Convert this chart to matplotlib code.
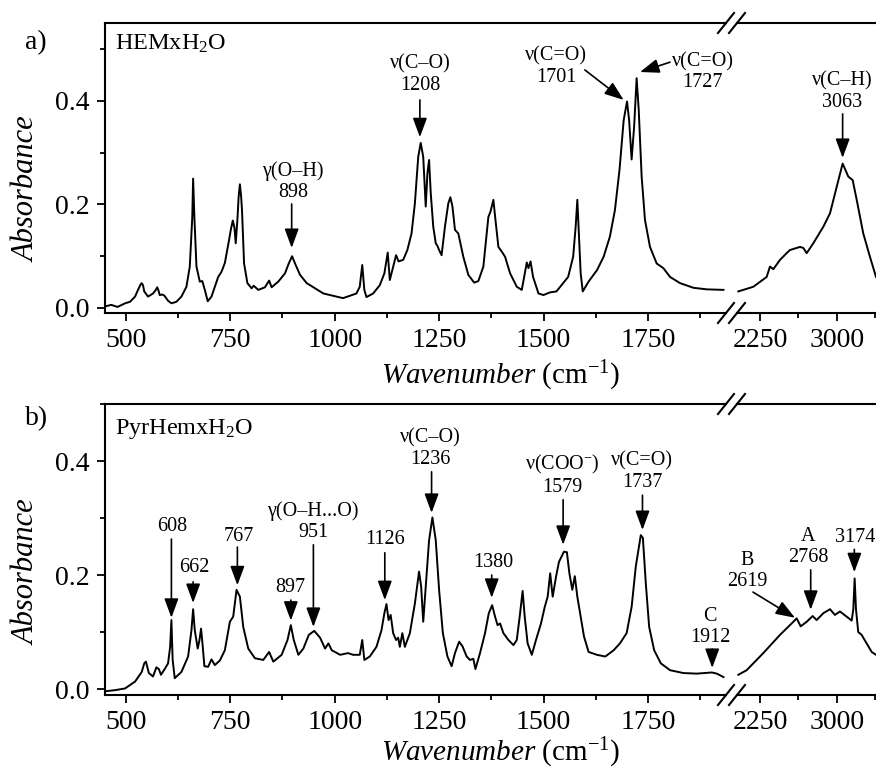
import matplotlib.pyplot as plt
from matplotlib.lines import Line2D
from matplotlib.ticker import FixedLocator, MultipleLocator, FormatStrFormatter

plt.rcParams['font.family'] = 'Liberation Serif'
plt.rcParams['mathtext.fontset'] = 'custom'
plt.rcParams['mathtext.rm'] = 'Liberation Serif'
plt.rcParams['mathtext.it'] = 'Liberation Serif:italic'

# ---- spectra ----
# a) HEMxH2O, 450-1950 cm-1
hem_wn_lo = [450, 465, 480, 498, 510, 522, 529, 535, 538, 541, 544, 553, 565, 571, 575, 578,
             581, 587, 592, 601, 609, 621, 633, 645, 653, 659, 661, 664, 669, 677, 683, 689,
             696, 705, 721, 729, 737, 747, 751, 756, 760, 763, 767, 770, 773, 776, 778, 783,
             791, 801, 806, 817, 833, 843, 849, 865, 881, 890, 898, 905, 917, 933, 953, 973,
             989, 1020, 1052, 1060, 1066, 1071, 1076, 1092, 1108, 1119, 1127, 1132, 1140, 1147,
             1153, 1164, 1174, 1184, 1192, 1200, 1206, 1212, 1218, 1222, 1226, 1230, 1236, 1242,
             1246, 1250, 1256, 1264, 1272, 1277, 1282, 1288, 1296, 1308, 1320, 1334, 1344, 1356,
             1368, 1373, 1380, 1385, 1392, 1400, 1408, 1420, 1436, 1448, 1453, 1460, 1464, 1469,
             1475, 1488, 1500, 1515, 1531, 1547, 1559, 1571, 1577, 1581, 1584, 1589, 1594, 1608,
             1628, 1644, 1659, 1671, 1682, 1692, 1700, 1705, 1711, 1717, 1723, 1728, 1735, 1743,
             1755, 1771, 1787, 1803, 1827, 1859, 1891, 1931]
hem_abs_lo = [0.003, 0.006, 0.002, 0.009, 0.012, 0.022, 0.035, 0.045, 0.048, 0.044, 0.032, 0.022,
              0.028, 0.034, 0.040, 0.034, 0.025, 0.026, 0.024, 0.014, 0.009, 0.012, 0.022, 0.041,
              0.080, 0.176, 0.250, 0.176, 0.080, 0.051, 0.052, 0.035, 0.013, 0.022, 0.060, 0.070,
              0.087, 0.131, 0.150, 0.169, 0.155, 0.125, 0.170, 0.215, 0.239, 0.215, 0.190, 0.086,
              0.048, 0.038, 0.043, 0.035, 0.040, 0.053, 0.040, 0.051, 0.067, 0.086, 0.100, 0.086,
              0.064, 0.048, 0.038, 0.028, 0.025, 0.019, 0.028, 0.041, 0.083, 0.035, 0.021, 0.028,
              0.044, 0.067, 0.107, 0.054, 0.080, 0.102, 0.090, 0.093, 0.112, 0.144, 0.202, 0.292,
              0.319, 0.292, 0.196, 0.260, 0.286, 0.222, 0.157, 0.125, 0.120, 0.112, 0.102, 0.157,
              0.202, 0.214, 0.196, 0.151, 0.144, 0.099, 0.064, 0.049, 0.052, 0.080, 0.176, 0.186,
              0.209, 0.170, 0.118, 0.109, 0.099, 0.067, 0.041, 0.035, 0.057, 0.088, 0.077, 0.090,
              0.060, 0.028, 0.025, 0.030, 0.032, 0.048, 0.060, 0.099, 0.157, 0.209, 0.157, 0.067,
              0.032, 0.051, 0.073, 0.099, 0.138, 0.189, 0.267, 0.363, 0.399, 0.363, 0.287, 0.350,
              0.444, 0.383, 0.254, 0.170, 0.118, 0.086, 0.077, 0.060, 0.048, 0.039, 0.036, 0.035]
# a) HEMxH2O, 2000-3400 cm-1
hem_wn_hi = [2039, 2185, 2315, 2347, 2380, 2445, 2510, 2542, 2640, 2672, 2705, 2769, 2867, 2932,
             2997, 3055, 3110, 3153, 3192, 3256, 3321, 3380]
hem_abs_hi = [0.032, 0.041, 0.060, 0.080, 0.075, 0.093, 0.106, 0.112, 0.118, 0.116, 0.106, 0.125,
              0.157, 0.183, 0.234, 0.279, 0.254, 0.247, 0.209, 0.144, 0.099, 0.060]

# b) PyrHemxH2O, 450-1950 cm-1
pyr_wn_lo = [450, 474, 498, 522, 538, 544, 548, 555, 565, 573, 579, 584, 593, 601, 606, 609, 612,
             617, 633, 649, 657, 661, 665, 672, 676, 680, 684, 688, 697, 705, 713, 725, 737, 749,
             757, 765, 773, 781, 793, 809, 829, 843, 853, 873, 887, 895, 902, 913, 925, 938, 951,
             965, 977, 985, 993, 1013, 1032, 1044, 1060, 1066, 1071, 1084, 1100, 1112, 1119, 1124,
             1129, 1134, 1140, 1147, 1152, 1156, 1162, 1168, 1180, 1192, 1202, 1207, 1212, 1218,
             1226, 1234, 1242, 1250, 1259, 1270, 1280, 1288, 1298, 1306, 1316, 1324, 1332, 1337,
             1348, 1360, 1369, 1377, 1384, 1390, 1396, 1404, 1416, 1428, 1436, 1443, 1450, 1455,
             1462, 1472, 1482, 1494, 1503, 1510, 1516, 1522, 1530, 1537, 1549, 1556, 1562, 1569,
             1575, 1581, 1589, 1597, 1608, 1628, 1648, 1668, 1683, 1699, 1711, 1721, 1733, 1738,
             1745, 1753, 1765, 1781, 1803, 1835, 1867, 1903, 1915, 1931]
pyr_abs_lo = [-0.004, -0.002, 0.001, 0.013, 0.030, 0.045, 0.048, 0.028, 0.022, 0.038, 0.035, 0.025,
              0.035, 0.045, 0.074, 0.121, 0.051, 0.019, 0.030, 0.057, 0.103, 0.140, 0.103, 0.071,
              0.085, 0.106, 0.075, 0.040, 0.039, 0.052, 0.042, 0.050, 0.068, 0.118, 0.127, 0.174,
              0.162, 0.109, 0.071, 0.054, 0.051, 0.065, 0.048, 0.060, 0.086, 0.112, 0.086, 0.060,
              0.071, 0.095, 0.102, 0.090, 0.071, 0.080, 0.068, 0.060, 0.063, 0.060, 0.060, 0.086,
              0.051, 0.057, 0.074, 0.103, 0.133, 0.149, 0.121, 0.130, 0.098, 0.086, 0.090, 0.074,
              0.098, 0.074, 0.098, 0.150, 0.206, 0.180, 0.118, 0.180, 0.261, 0.301, 0.261, 0.174,
              0.098, 0.057, 0.040, 0.063, 0.083, 0.075, 0.057, 0.051, 0.053, 0.035, 0.063, 0.098,
              0.133, 0.147, 0.127, 0.112, 0.115, 0.098, 0.086, 0.077, 0.086, 0.127, 0.172, 0.127,
              0.080, 0.060, 0.086, 0.115, 0.144, 0.162, 0.203, 0.162, 0.197, 0.223, 0.241, 0.240,
              0.203, 0.174, 0.198, 0.162, 0.127, 0.092, 0.065, 0.060, 0.057, 0.068, 0.080, 0.098,
              0.144, 0.215, 0.270, 0.265, 0.185, 0.109, 0.068, 0.045, 0.033, 0.028, 0.027, 0.029,
              0.027, 0.021]
# b) PyrHemxH2O, 2000-3400 cm-1
pyr_wn_hi = [2039, 2120, 2282, 2445, 2575, 2607, 2646, 2705, 2763, 2802, 2867, 2932, 2980, 3029,
             3094, 3143, 3159, 3172, 3185, 3207, 3240, 3289, 3338, 3380]
pyr_abs_hi = [0.025, 0.033, 0.063, 0.095, 0.118, 0.124, 0.110, 0.118, 0.128, 0.121, 0.133, 0.140,
              0.130, 0.136, 0.127, 0.120, 0.140, 0.194, 0.140, 0.100, 0.095, 0.080, 0.065, 0.060]

# band labels: (segment, text, text x, text y, arrow tail x, y, arrow tip x, y)
hem_notes = [
    ('lo', 'γ(O–H)\n898', 900, 0.205, 897, 0.201, 897, 0.116),
    ('lo', 'ν(C–O)\n1208', 1204, 0.412, 1204, 0.402, 1204, 0.330),
    ('lo', 'ν(C=O)\n1701', 1530, 0.427, 1599, 0.460, 1692, 0.402),
    ('lo', 'ν(C=O)\n1727', 1881, 0.417, 1803, 0.475, 1731, 0.456),
    ('hi', 'ν(C–H)\n3063', 3054, 0.379, 3055, 0.375, 3055, 0.290),
]
pyr_notes = [
    ('lo', '608', 610, 0.268, 609, 0.263, 609, 0.125),
    ('lo', '662', 665, 0.196, 661, 0.188, 661, 0.151),
    ('lo', '767', 771, 0.251, 767, 0.249, 767, 0.182),
    ('lo', '897', 894, 0.161, 895, 0.156, 895, 0.120),
    ('lo', 'γ(O–H...O)\n951', 948, 0.258, 949, 0.253, 949, 0.109),
    ('lo', '1126', 1120, 0.246, 1120, 0.239, 1120, 0.156),
    ('lo', 'ν(C–O)\n1236', 1230, 0.386, 1232, 0.381, 1232, 0.309),
    ('lo', '1380', 1379, 0.205, 1376, 0.200, 1376, 0.160),
    ('lo', 'ν(COO$^{-}$)\n1579', 1544, 0.337, 1547, 0.332, 1547, 0.253),
    ('lo', 'ν(C=O)\n1737', 1736, 0.346, 1737, 0.340, 1737, 0.279),
    ('lo', 'C\n1912', 1899, 0.074, 1904, 0.070, 1904, 0.037),
    ('hi', 'B\n2619', 2123, 0.172, 2182, 0.170, 2591, 0.125),
    ('hi', 'A\n2768', 2718, 0.214, 2744, 0.209, 2744, 0.139),
    ('hi', '3174', 3175, 0.249, 3169, 0.245, 3169, 0.205),
]

W, H = 876, 771
fig = plt.figure(figsize=(W / 100, H / 100), dpi=100)


def fx(px):
    return px / W


def fy(py):
    return 1 - py / H


def make_panel(ytop, ybot, ylim):
    lo = fig.add_axes([fx(105), fy(ybot), fx(726) - fx(105), fy(ytop) - fy(ybot)])
    hi = fig.add_axes([fx(737), fy(ybot), fx(880) - fx(737), fy(ytop) - fy(ybot)])
    lo.set_xlim(450, 1937)
    hi.set_xlim(2026, 3419)
    for ax in (lo, hi):
        ax.set_ylim(*ylim)
        ax.set_facecolor('none')
        for s in ax.spines.values():
            s.set_linewidth(1.5)
        ax.tick_params(which='both', direction='out', width=1.3, labelsize=20, top=False, right=False)
        ax.tick_params(which='major', length=6, pad=5)
        ax.tick_params(which='minor', length=3.5)
    lo.spines['right'].set_visible(False)
    hi.spines['left'].set_visible(False)
    hi.spines['right'].set_visible(False)
    lo.xaxis.set_major_locator(FixedLocator([500, 750, 1000, 1250, 1500, 1750]))
    lo.xaxis.set_minor_locator(FixedLocator([625, 875, 1125, 1375, 1625, 1875]))
    hi.xaxis.set_major_locator(FixedLocator([2250, 3000]))
    hi.xaxis.set_minor_locator(FixedLocator([2625, 3375]))
    lo.yaxis.set_major_locator(MultipleLocator(0.2))
    lo.yaxis.set_minor_locator(MultipleLocator(0.1))
    lo.yaxis.set_major_formatter(FormatStrFormatter('%.1f'))
    hi.yaxis.set_visible(False)
    # break marks
    for yc in (ytop, ybot):
        for xc in (726, 737):
            fig.add_artist(Line2D([fx(xc - 8), fx(xc + 8)], [fy(yc + 10), fy(yc - 10)],
                                  color='k', lw=1.5))
    return lo, hi


def draw_notes(axes, notes):
    for seg, txt, tx, ty, ax0, ay0, ax1, ay1 in notes:
        ax = axes[seg]
        ax.text(tx, ty, txt, ha='center', va='bottom', fontsize=14.5, clip_on=False,
                linespacing=1.15)
        ax.annotate('', xy=(ax1, ay1), xytext=(ax0, ay0), annotation_clip=False,
                    arrowprops=dict(arrowstyle='-|>,head_length=0.65,head_width=0.24', color='k',
                                    lw=1.2, shrinkA=0, shrinkB=0, mutation_scale=18))


# panel a
a_lo, a_hi = make_panel(23, 313, (-0.0097, 0.5507))
a_lo.plot(hem_wn_lo, hem_abs_lo, color='k', lw=1.4)
a_hi.plot(hem_wn_hi, hem_abs_hi, color='k', lw=1.4)
draw_notes({'lo': a_lo, 'hi': a_hi}, hem_notes)

# panel b
b_lo, b_hi = make_panel(404, 695, (-0.0105, 0.5))
b_lo.plot(pyr_wn_lo, pyr_abs_lo, color='k', lw=1.4)
b_hi.plot(pyr_wn_hi, pyr_abs_hi, color='k', lw=1.4)
draw_notes({'lo': b_lo, 'hi': b_hi}, pyr_notes)

# labels
for yl, ya, yn, letter, name in [(384, 189, 50, 'a)', 'HEMxH$_2$O'),
                                 (761, 572, 434, 'b)', 'PyrHemxH$_2$O')]:
    fig.text(fx(501), fy(yl), r'$\mathit{Wavenumber}$ (cm$^{-1}$)', ha='center', va='baseline',
             fontsize=21)
    fig.text(fx(27), fy(ya), 'Absorbance', rotation=90, style='italic', ha='center',
             va='center', fontsize=22)
    fig.text(fx(115), fy(yn), name, ha='left', va='baseline', fontsize=17.5)
fig.text(fx(36), fy(43), 'a)', ha='center', va='center', fontsize=20)
fig.text(fx(37), fy(419), 'b)', ha='center', va='center', fontsize=20)

fig.savefig('out.png', dpi=100)
